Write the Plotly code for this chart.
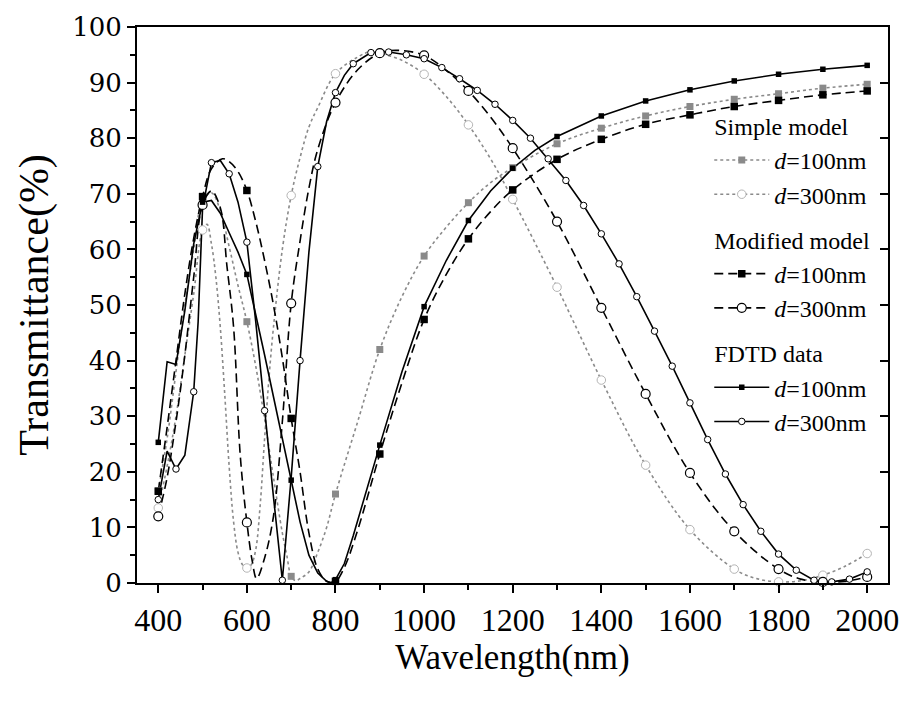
import plotly.graph_objects as go

# ---------------- data ----------------
# Simple model, d = 100 nm
simple100_wl = [400, 420, 440, 460, 480, 500, 520, 540, 560, 580, 600, 620, 640, 660, 680, 690, 700, 710, 720,
                740, 760, 780, 800, 850, 900, 950, 1000, 1050, 1100, 1150, 1200, 1300, 1400, 1500, 1600, 1700,
                1800, 1900, 2000]
simple100_T = [16.6, 26, 38, 50, 60, 68.8, 70.2, 67, 60.5, 53.5, 47, 39, 29.5, 19, 9, 5, 1.2, 0.4, 0.8,
               2, 5.5, 10, 16, 29, 42, 51.5, 58.8, 64, 68.4, 72, 74.7, 79, 81.8, 84, 85.7, 87,
               88, 89, 89.7]

# Simple model, d = 300 nm
simple300_wl = [400, 420, 440, 460, 480, 500, 510, 520, 530, 540, 550, 560, 570, 580, 590, 600, 610, 620, 630,
                640, 650, 660, 680, 700, 720, 740, 760, 800, 850, 880, 900, 950, 1000, 1050, 1100, 1150, 1200,
                1300, 1400, 1500, 1600, 1700, 1750, 1800, 1850, 1900, 1950, 2000]
simple300_T = [13.5, 21, 30, 41, 52, 63.5, 64.5, 61, 55, 46, 34, 21, 11, 5.5, 3.3, 2.7, 3.3, 6, 14,
               26, 37, 46, 60, 69.7, 76.5, 82, 85.5, 91.6, 94.6, 95.6, 95.3, 94, 91.5, 87.5, 82.4, 76.3, 69,
               53.2, 36.5, 21.2, 9.6, 2.5, 0.8, 0.2, 0.4, 1.4, 3, 5.3]

# Modified model, d = 100 nm
mod100_wl = [400, 420, 440, 460, 480, 500, 520, 545, 560, 580, 600, 620, 640, 660, 680, 700, 720, 740, 760,
             780, 800, 820, 850, 900, 950, 1000, 1050, 1100, 1150, 1200, 1300, 1400, 1500, 1600, 1700, 1800,
             1900, 2000]
mod100_T = [16.5, 28, 40, 52, 62, 69.5, 74.5, 76.3, 75.8, 74, 70.6, 65, 58, 50, 40.5, 29.6, 20, 9, 2.5,
            0.3, 0.3, 2.8, 9.5, 23.2, 36, 47.4, 55.5, 61.9, 66.8, 70.7, 76.2, 79.8, 82.5, 84.2, 85.7, 86.8,
            87.8, 88.5]

# Modified model, d = 300 nm
mod300_wl = [400, 420, 440, 460, 480, 500, 520, 540, 555, 570, 585, 600, 612, 622, 640, 660, 680, 700, 720,
             740, 760, 800, 850, 900, 940, 1000, 1050, 1100, 1150, 1200, 1300, 1400, 1500, 1600, 1700, 1800,
             1850, 1900, 1950, 2000]
mod300_T = [12, 19, 29, 41, 55, 68, 70.5, 67.5, 57, 46, 23, 10.9, 4, 0.8, 4.5, 12, 29, 50.3, 61.5,
            71, 78, 86.4, 92.3, 95.3, 95.8, 94.9, 92.2, 88.5, 83.8, 78.2, 65, 49.5, 34, 19.8, 9.3, 2.5,
            0.7, 0.2, 0.3, 1.1]

# FDTD data, d = 100 nm
fdtd100_wl = [400, 420, 440, 460, 480, 500, 520, 540, 560, 580, 600, 620, 640, 660, 680, 700, 720, 740, 760,
              780, 790, 800, 820, 840, 860, 880, 900, 950, 1000, 1050, 1100, 1150, 1200, 1250, 1300, 1400,
              1500, 1600, 1700, 1800, 1900, 2000]
fdtd100_T = [25.3, 39.8, 39.3, 49, 61, 68.5, 68.8, 66.5, 63, 59.5, 55.5, 48.5, 41, 33.5, 26, 18.5, 11, 5, 1.8,
             0.3, 0, 0.6, 3.5, 8.5, 14, 19.5, 24.8, 38, 49.7, 58, 65.2, 70.5, 74.6, 77.8, 80.3, 84,
             86.7, 88.7, 90.3, 91.5, 92.4, 93.1]

# FDTD data, d = 300 nm
fdtd300_wl = [400, 420, 440, 460, 480, 490, 500, 520, 540, 560, 580, 600, 620, 640, 660, 680, 700, 720, 740,
              760, 780, 800, 820, 840, 880, 920, 960, 1000, 1040, 1080, 1120, 1160, 1200, 1240, 1280, 1320,
              1360, 1400, 1440, 1480, 1520, 1560, 1600, 1640, 1680, 1720, 1760, 1800, 1840, 1880, 1920,
              1960, 2000]
fdtd300_T = [15, 23.7, 20.5, 23, 34.4, 47, 67.5, 75.6, 76, 73.6, 68.5, 61.3, 47, 31, 15.5, 0.5, 19, 40, 59.5,
             74.9, 83, 88.2, 91.3, 93.4, 95.4, 95.5, 95.0, 94.3, 92.7, 90.7, 88.6, 86.1, 83.2, 80, 76.3, 72.4,
             67.9, 62.8, 57.4, 51.5, 45.3, 39, 32.4, 25.8, 19.6, 14.1, 9.3, 5.2, 2.3, 0.5, 0.2,
             0.7, 2]

# wavelengths that carry a marker
model_marker_wl = list(range(400, 2001, 100))
fdtd100_marker_wl = list(range(400, 2001, 100))
fdtd300_marker_wl = list(range(400, 2001, 40))

x_ticks = list(range(400, 2001, 200))
y_ticks = list(range(0, 101, 10))

FONT = "Liberation Serif"
GRAY = "#8a8a8a"
LIGHT = "#b4b4b4"


def pick(wl, T, marks):
    xs, ys = [], []
    for w, t in zip(wl, T):
        if w in marks:
            xs.append(w)
            ys.append(t)
    return xs, ys


series = [
    # name, group, group title, wl, T, marks, line dict, marker dict, shape
    ("<i>d</i>=100nm", "simple", "Simple model", simple100_wl, simple100_T, model_marker_wl,
     dict(color=GRAY, width=1.6, dash="3px,3px"),
     dict(symbol="square", size=7, color=GRAY, line=dict(width=0)), "spline"),
    ("<i>d</i>=300nm", "simple", "Simple model", simple300_wl, simple300_T, model_marker_wl,
     dict(color=GRAY, width=1.6, dash="3px,3px"),
     dict(symbol="circle", size=8.5, color="white", line=dict(width=1, color=LIGHT)), "spline"),
    ("<i>d</i>=100nm", "modified", "Modified model", mod100_wl, mod100_T, model_marker_wl,
     dict(color="black", width=1.6, dash="9px,5px"),
     dict(symbol="square", size=7.5, color="black", line=dict(width=0)), "spline"),
    ("<i>d</i>=300nm", "modified", "Modified model", mod300_wl, mod300_T, model_marker_wl,
     dict(color="black", width=1.6, dash="9px,5px"),
     dict(symbol="circle", size=9, color="white", line=dict(width=1.2, color="black")), "spline"),
    ("<i>d</i>=100nm", "fdtd", "FDTD data", fdtd100_wl, fdtd100_T, fdtd100_marker_wl,
     dict(color="black", width=1.6),
     dict(symbol="square", size=5.5, color="black", line=dict(width=0)), "linear"),
    ("<i>d</i>=300nm", "fdtd", "FDTD data", fdtd300_wl, fdtd300_T, fdtd300_marker_wl,
     dict(color="black", width=1.6),
     dict(symbol="circle", size=6.5, color="white", line=dict(width=1, color="black")), "linear"),
]

fig = go.Figure()

# curves
for name, grp, gtitle, wl, T, marks, ln, mk, shape in series:
    fig.add_trace(go.Scatter(x=wl, y=T, mode="lines", line=dict(shape=shape, smoothing=1.0, **ln),
                             showlegend=False, hoverinfo="skip", cliponaxis=True))
# markers
for name, grp, gtitle, wl, T, marks, ln, mk, shape in series:
    mx, my = pick(wl, T, marks)
    fig.add_trace(go.Scatter(x=mx, y=my, mode="markers", marker=mk, showlegend=False, cliponaxis=False))
# legend entries
for name, grp, gtitle, wl, T, marks, ln, mk, shape in series:
    fig.add_trace(go.Scatter(x=[None], y=[None], mode="lines+markers", name=name,
                             legendgroup=grp, legendgrouptitle=dict(text=gtitle),
                             line=ln, marker=mk, showlegend=True))

# helper trace for right-hand inward ticks
fig.add_trace(go.Scatter(x=[None], y=[None], yaxis="y2", showlegend=False))

axis_common = dict(showline=True, linecolor="black", linewidth=2, mirror=True,
                   showgrid=False, zeroline=False, ticks="outside", tickcolor="black",
                   tickwidth=2, ticklen=8)

fig.update_layout(
    width=911, height=704,
    margin=dict(l=137, r=21, t=22, b=121),
    paper_bgcolor="white", plot_bgcolor="white",
    font=dict(family=FONT, color="black"),
    xaxis=dict(range=[352, 2047], tickvals=x_ticks, ticktext=[str(v) for v in x_ticks],
               tickfont=dict(family=FONT, size=32),
               minor=dict(ticks="outside", ticklen=5, tickwidth=1.5, tickcolor="black",
                          tickvals=list(range(500, 2000, 200))),
               title=dict(text="Wavelength(nm)", font=dict(family=FONT, size=35), standoff=2),
               **axis_common),
    yaxis=dict(range=[0, 100], tickvals=y_ticks, ticktext=[str(v) for v in y_ticks],
               tickfont=dict(family="DejaVu Serif", size=26),
               minor=dict(ticks="outside", ticklen=5, tickwidth=1.5, tickcolor="black",
                          tickvals=list(range(5, 100, 10))),
               title=dict(text="Transmittance(%)", font=dict(family=FONT, size=42), standoff=10),
               **axis_common),
    yaxis2=dict(overlaying="y", side="right", range=[0, 100], tickvals=y_ticks[1:-1],
                ticks="inside", ticklen=8, tickwidth=2, tickcolor="black",
                showticklabels=False, showgrid=False, zeroline=False, showline=False),
    legend=dict(x=0.762, y=0.862, xanchor="left", yanchor="top",
                bgcolor="rgba(0,0,0,0)", borderwidth=0,
                font=dict(family=FONT, size=24),
                grouptitlefont=dict(family=FONT, size=24),
                traceorder="grouped", tracegroupgap=11, itemwidth=55),
    showlegend=True,
)

fig.write_html("out.html")
